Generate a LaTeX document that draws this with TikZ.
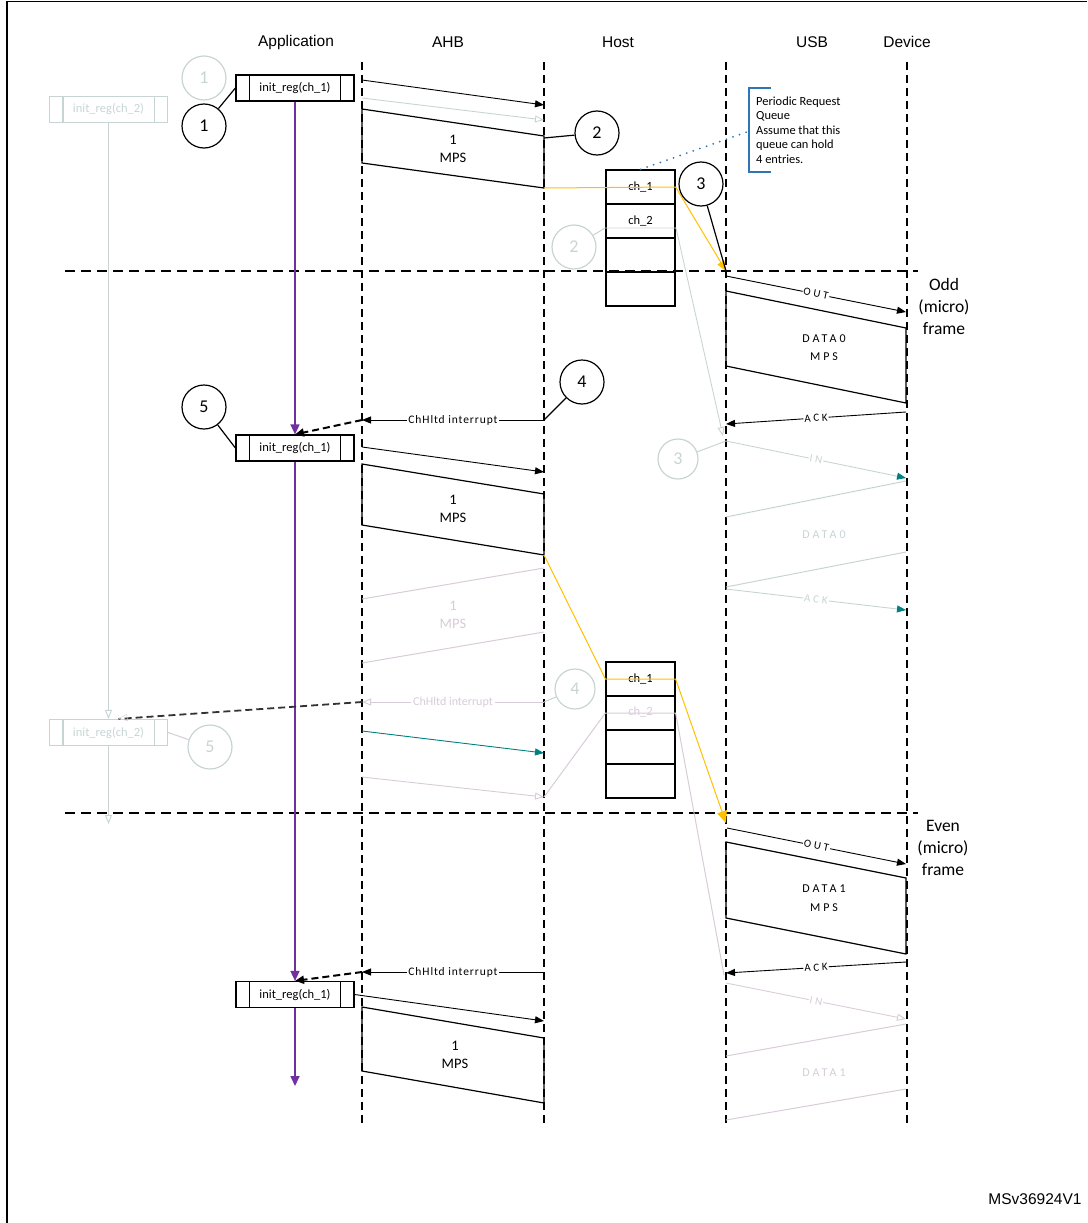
\documentclass[tikz,border=0pt]{standalone}
\usepackage{fontspec}
\setmainfont{Carlito}
\newfontfamily\arialfont{Liberation Sans}
\newfontfamily\spacedfont[LetterSpace=25]{Carlito}
\newfontfamily\slightfont[LetterSpace=8]{Carlito}
\usetikzlibrary{arrows.meta}
\definecolor{apppurple}{RGB}{112,48,160}
\definecolor{qyellow}{RGB}{255,192,0}
\definecolor{ghost}{RGB}{200,212,212}
\definecolor{ghostpink}{RGB}{216,204,216}
\definecolor{tealtip}{RGB}{0,128,128}
\definecolor{noteblue}{RGB}{46,117,182}

\begin{document}
\begin{tikzpicture}[x=1pt,y=-1pt]
\tikzstyle{lifeline}=[line width=1.6pt,dash pattern=on 8pt off 5pt]
\tikzstyle{framesep}=[line width=1.8pt,dash pattern=on 10pt off 6pt]
\tikzstyle{callout}=[circle,draw=black,line width=1.2pt,minimum size=44pt,inner sep=0pt,font=\fontsize{18}{20}\selectfont]
\tikzstyle{ghostcallout}=[callout,draw=ghost,text=ghost]
\tikzstyle{procbox}=[rectangle,draw=black,line width=1.2pt,minimum width=118pt,minimum height=26pt,inner sep=0pt,font=\fontsize{12.5}{14}\selectfont]
\tikzstyle{ghostbox}=[procbox,draw=ghost,text=ghost]
\tikzstyle{qcell}=[rectangle,draw=black,line width=1.2pt,minimum width=69pt,minimum height=34pt,inner sep=0pt,font=\fontsize{12.5}{14}\selectfont]
\tikzstyle{msg}=[line width=0.9pt,-{Triangle[length=9pt,width=7pt]}]
\tikzstyle{ghostmsg}=[line width=0.9pt,-{Triangle[open,length=9pt,width=7pt]}]
\tikzstyle{tealmsg}=[line width=0.9pt,-{Triangle[length=9pt,width=7pt,color=tealtip]}]
\tikzstyle{appflow}=[apppurple,line width=1.6pt,-{Triangle[length=10pt,width=9pt]}]
\tikzstyle{halt}=[line width=2pt,dash pattern=on 7pt off 4pt,-{Triangle[length=9pt,width=8pt]}]
\tikzstyle{pkt}=[fill=white,inner sep=1pt,sloped,font=\spacedfont\fontsize{11}{12}\selectfont]
\tikzstyle{intlabel}=[fill=white,inner sep=1.5pt,font=\slightfont\fontsize{11.5}{12}\selectfont]
\tikzstyle{payload}=[align=center,font=\fontsize{14.5}{18}\selectfont]
\tikzstyle{datapay}=[align=center,font=\spacedfont\fontsize{12}{18.5}\selectfont]
\tikzstyle{hdr}=[font=\arialfont\fontsize{15.5}{18}\selectfont]
\tikzstyle{framelbl}=[align=center,font=\fontsize{17.5}{22}\selectfont]
\useasboundingbox (0,0) rectangle (1087,1223);
\draw[line width=1.5pt] (1087,1.5) -- (7,1.5) -- (7,1223);

% column headers
\node[hdr] (hApp) at (296,42) {Application};
\node[hdr] (hAhb) at (448,42) {AHB};
\node[hdr] (hHost) at (618,42) {Host};
\node[hdr] (hUsb) at (812,42) {USB};
\node[hdr] (hDev) at (907,42) {Device};

% lifelines and (micro)frame boundaries
\foreach \x/\n in {362/ahb,544/host,726/usb,907/dev} {
  \coordinate (\n-top) at (\x,62);
  \coordinate (\n-bot) at (\x,1125);
  \draw[lifeline] (\n-top) -- (\n-bot);
}
\coordinate (odd-l) at (65,271);
\coordinate (odd-r) at (918,271);
\coordinate (even-l) at (65,813);
\coordinate (even-r) at (918,813);
\draw[framesep] (odd-l) -- (odd-r);
\draw[framesep] (even-l) -- (even-r);
\node[framelbl] (oddlbl) at (944,306) {Odd\\(micro)\\frame};
\node[framelbl] (evenlbl) at (943,848) {Even\\(micro)\\frame};

% application side
\node[procbox] (initA) at (295,88) {init\_reg(ch\_1)};
\node[procbox] (initB) at (295,448) {init\_reg(ch\_1)};
\node[procbox] (initC) at (295,994.5) {init\_reg(ch\_1)};
\node[ghostbox] (ghostA) at (108.5,109.5) {init\_reg(ch\_2)};
\node[ghostbox] (ghostB) at (108.5,732.5) {init\_reg(ch\_2)};
\foreach \b in {initA,initB,initC} {
  \draw[line width=1.2pt] ([xshift=14pt]\b.north west) -- ([xshift=14pt]\b.south west);
  \draw[line width=1.2pt] ([xshift=-14pt]\b.north east) -- ([xshift=-14pt]\b.south east);
}
\foreach \b in {ghostA,ghostB} {
  \draw[ghost,line width=1.2pt] ([xshift=14pt]\b.north west) -- ([xshift=14pt]\b.south west);
  \draw[ghost,line width=1.2pt] ([xshift=-14pt]\b.north east) -- ([xshift=-14pt]\b.south east);
}
\coordinate (append) at (295,1086);
\coordinate (ghostend) at (108.5,824);
\draw[appflow] (initA) -- (initB);
\draw[appflow] (initB) -- (initC);
\draw[appflow] (initC) -- (append);
\draw[ghost,ghostmsg] (ghostA) -- (ghostB);
\draw[ghost,ghostmsg] (ghostB) -- (ghostend);

\node[callout] (c1) at (204,126) {1};
\node[ghostcallout] (g1) at (204,78) {1};
\draw[line width=1.2pt] (c1) -- (initA.west);

% first transfer, odd frame
\coordinate (r1s) at (362,80);
\coordinate (r1e) at (544,105);
\draw[msg] (r1s) -- (r1e);
\coordinate (g1s) at (362,98);
\coordinate (g1e) at (544,120);
\draw[ghost,ghostmsg] (g1s) -- (g1e);
\coordinate (m1a) at (362,109);
\coordinate (m1b) at (544,136);
\coordinate (m1c) at (544,188);
\coordinate (m1d) at (362,163);
\draw[line width=1.2pt] (m1a) -- (m1b) -- (m1c) -- (m1d) -- cycle;
\node[payload] (m1t) at (453,149) {1\\MPS};
\node[callout] (c2) at (597,133) {2};
\coordinate (c2p) at (544,138);
\draw[line width=1.2pt] (c2) -- (c2p);

% periodic request queue
\node[qcell] (q1a) at (640.5,187) {ch\_1};
\node[qcell] (q1b) at (640.5,221) {ch\_2};
\node[qcell] (q1c) at (640.5,255) {};
\node[qcell] (q1d) at (640.5,289) {};
\node[align=left,anchor=west,inner sep=0pt,font=\fontsize{12.4}{14.6}\selectfont] (note) at (756,130)
  {Periodic Request\\Queue\\Assume that this\\queue can hold\\4 entries.};
\draw[noteblue,line width=1.2pt] (771,88) -- (749,88) -- (749,172) -- (771,172);
\coordinate (notep) at (747,132);
\draw[noteblue,line width=2pt,line cap=round,dash pattern=on 0pt off 7pt] (q1a.north) -- (notep);
\coordinate (usb1) at (726,271);
\draw[qyellow,line width=1pt,-{Triangle[length=10pt,width=8pt]}] (m1c) -- (q1a.east) -- (usb1);
\node[callout] (c3) at (701,184) {3};
\draw[line width=1.2pt] (c3) -- (usb1);
\node[ghostcallout] (g2) at (574,247) {2};
\coordinate (g2q) at (605,228);
\coordinate (g2r) at (676,228);
\coordinate (g2u) at (723,436);
\draw[ghost,line width=1pt] (g2) -- (g2q);
\draw[ghost,ghostmsg] (g2q) -- (g2r) -- (g2u);

% USB traffic, odd frame
\coordinate (o1s) at (726,276);
\coordinate (o1e) at (906,312);
\draw[msg] (o1s) -- (o1e) node[pkt,midway] {OUT};
\coordinate (d0a) at (726,291);
\coordinate (d0b) at (906,328);
\coordinate (d0c) at (906,403);
\coordinate (d0d) at (726,366);
\draw[line width=1.2pt] (d0a) -- (d0b) -- (d0c) -- (d0d) -- cycle;
\node[datapay] (d0t) at (824,347.5) {DATA0\\MPS};
\coordinate (k1s) at (906,412);
\coordinate (k1e) at (726,424);
\draw[msg] (k1s) -- (k1e) node[pkt,midway] {ACK};
\coordinate (i1s) at (726,441);
\coordinate (i1e) at (906,478);
\draw[ghost,tealmsg] (i1s) -- (i1e) node[pkt,midway,text=ghost] {IN};
\coordinate (gd0a) at (726,517);
\coordinate (gd0b) at (906,481);
\coordinate (gd0c) at (906,552);
\coordinate (gd0d) at (726,587);
\draw[ghost,line width=1pt] (gd0a) -- (gd0b) (gd0c) -- (gd0d);
\node[datapay,text=ghost] (gd0t) at (824,535) {DATA0};
\coordinate (gk1s) at (726,589);
\coordinate (gk1e) at (906,610);
\draw[ghost,tealmsg] (gk1s) -- (gk1e) node[pkt,midway,text=ghost] {ACK};
\node[ghostcallout,minimum size=40pt] (g3) at (678,459) {3};
\draw[ghost,line width=1pt] (g3) -- (i1s);

% halt and re-init of ch_1
\coordinate (h1s) at (544,420);
\coordinate (h1e) at (362,420);
\draw[msg] (h1s) -- (h1e) node[intlabel,midway] {ChHltd interrupt};
\draw[halt] (h1e) -- (initB.north);
\node[callout] (c4) at (582,382) {4};
\draw[line width=1.2pt] (c4) -- (h1s);
\node[callout] (c5) at (204,407) {5};
\draw[line width=1.2pt] (c5) -- (initB.west);
\coordinate (r2s) at (362,447);
\coordinate (r2e) at (544,472);
\draw[msg] (r2s) -- (r2e);
\coordinate (m2a) at (362,464);
\coordinate (m2b) at (544,494);
\coordinate (m2c) at (544,555);
\coordinate (m2d) at (362,525);
\draw[line width=1.2pt] (m2a) -- (m2b) -- (m2c) -- (m2d) -- cycle;
\node[payload] (m2t) at (453,509) {1\\MPS};

% ghost transfer for ch_2
\coordinate (gm2a) at (362,599);
\coordinate (gm2b) at (544,568);
\coordinate (gm2c) at (544,632);
\coordinate (gm2d) at (362,663);
\draw[ghostpink,line width=1pt] (gm2a) -- (gm2b) (gm2c) -- (gm2d);
\node[payload,text=ghostpink] (gm2t) at (453,614.5) {1\\MPS};
\coordinate (gh2s) at (544,702);
\coordinate (gh2e) at (362,702);
\draw[ghostpink,ghostmsg] (gh2s) -- (gh2e) node[midway,fill=white,inner sep=2pt,font=\fontsize{12}{13}\selectfont] {ChHltd interrupt};
\draw[black!80,line width=1.8pt,dash pattern=on 7pt off 4pt] (gh2e) -- ([xshift=10pt]ghostB.north);
\draw[ghostpink,-{Triangle[open,length=9pt,width=7pt]}] ([xshift=16pt,yshift=1pt]ghostB.north) -- ([xshift=10pt]ghostB.north);
\node[ghostcallout,minimum size=40pt] (g4) at (575,689) {4};
\draw[ghost,line width=1pt] (g4) -- (gh2s);
\node[ghostcallout] (g5) at (210,747) {5};
\draw[ghostpink,line width=1pt] (g5) -- (ghostB.east);
\coordinate (t1s) at (362,731);
\coordinate (t1e) at (544,753);
\draw[tealtip,msg] (t1s) -- (t1e);
\coordinate (gr2s) at (362,777);
\coordinate (gr2e) at (544,797);
\draw[ghostpink,ghostmsg] (gr2s) -- (gr2e);

% second queue
\node[qcell] (q2a) at (640.5,679) {ch\_1};
\node[qcell] (q2b) at (640.5,713) {};
\node[qcell] (q2c) at (640.5,747) {};
\node[qcell] (q2d) at (640.5,781) {};
\node[text=ghostpink,font=\fontsize{12.5}{14}\selectfont] (q2bt) at (640.5,712) {ch\_2};
\coordinate (usb2) at (726,823);
\draw[qyellow,line width=1pt,-{Triangle[length=12pt,width=10pt]}] (m2c) -- (q2a.west) -- (q2a.east) -- (usb2);
\coordinate (gq2u) at (724,975);
\draw[ghostpink,line width=1pt] (gr2e) -- (q2b.west) -- (q2b.east) -- (gq2u);

% USB traffic, even frame
\coordinate (o2s) at (727,828);
\coordinate (o2e) at (906,864);
\draw[msg] (o2s) -- (o2e) node[pkt,midway] {OUT};
\coordinate (d1a) at (726,842);
\coordinate (d1b) at (906,878);
\coordinate (d1c) at (906,954);
\coordinate (d1d) at (726,918);
\draw[line width=1.2pt] (d1a) -- (d1b) -- (d1c) -- (d1d) -- cycle;
\node[datapay] (d1t) at (824,898) {DATA1\\MPS};
\coordinate (k2s) at (906,962);
\coordinate (k2e) at (726,973);
\draw[msg] (k2s) -- (k2e) node[pkt,midway] {ACK};
\coordinate (i2s) at (726,983);
\coordinate (i2e) at (906,1019);
\draw[ghostpink,ghostmsg] (i2s) -- (i2e) node[pkt,midway,text=ghostpink] {IN};
\coordinate (gd1a) at (726,1056);
\coordinate (gd1b) at (906,1024);
\coordinate (gd1c) at (906,1089);
\coordinate (gd1d) at (726,1120);
\draw[ghostpink,line width=1pt] (gd1a) -- (gd1b) (gd1c) -- (gd1d);
\node[datapay,text=ghostpink] (gd1t) at (824,1073) {DATA1};

% third re-init
\coordinate (h3s) at (544,972);
\coordinate (h3e) at (362,972);
\draw[msg] (h3s) -- (h3e) node[intlabel,midway] {ChHltd interrupt};
\draw[halt] (h3e) -- (initC.north);
\coordinate (r3e) at (544,1021);
\draw[msg] (initC.east) -- (r3e);
\coordinate (m3a) at (362,1007);
\coordinate (m3b) at (544,1038);
\coordinate (m3c) at (544,1103);
\coordinate (m3d) at (362,1071);
\draw[line width=1.2pt] (m3a) -- (m3b) -- (m3c) -- (m3d) -- cycle;
\node[payload] (m3t) at (455,1054.5) {1\\MPS};

\node[hdr] (docid) at (1035,1199) {MSv36924V1};
\end{tikzpicture}
\end{document}
